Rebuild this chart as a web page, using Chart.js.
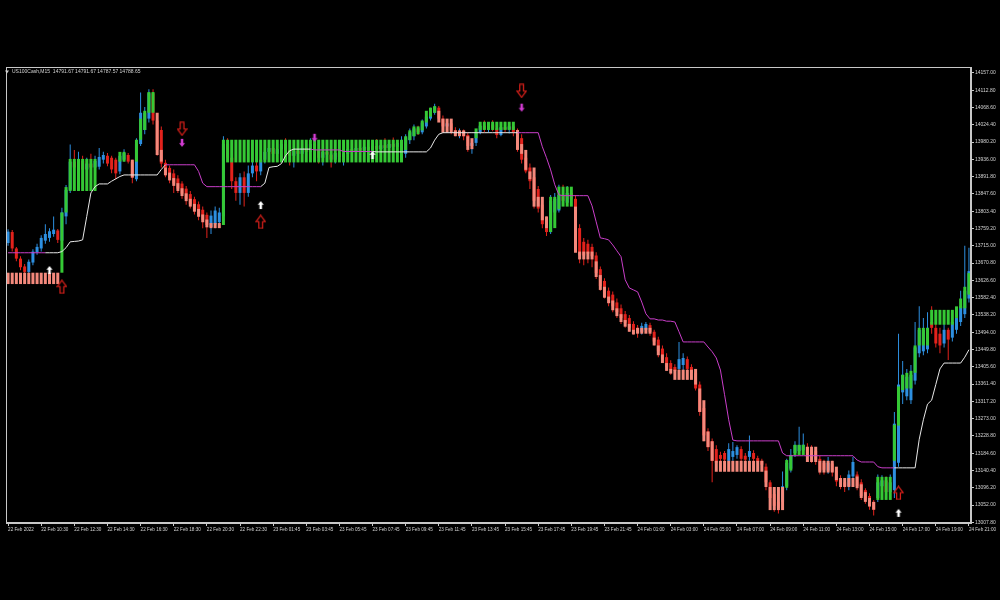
<!DOCTYPE html>
<html lang="en">
<head>
<meta charset="utf-8">
<title>US100Cash,M15</title>
<script src="https://cdn.jsdelivr.net/npm/chart.js@4.4.1/dist/chart.umd.min.js"></script>
<style>
  html, body { margin: 0; padding: 0; background: #000; }
  #chart { display: block; background: #000; }
</style>
</head>
<body>
<canvas id="chart" width="1000" height="600"></canvas>
<script>
const _ = null;
const symbolInfo = 'US100Cash,M15  14791.67 14791.67 14787.57 14788.65';

// one label every 8 bars (2 hours of M15)
const timeLabels = ['22 Feb 2022', '22 Feb 10:30', '22 Feb 12:30', '22 Feb 14:30', '22 Feb 16:30', '22 Feb 18:30',
  '22 Feb 20:30', '22 Feb 22:30', '23 Feb 01:45', '23 Feb 03:45', '23 Feb 05:45', '23 Feb 07:45', '23 Feb 09:45',
  '23 Feb 11:45', '23 Feb 13:45', '23 Feb 15:45', '23 Feb 17:45', '23 Feb 19:45', '23 Feb 21:45', '24 Feb 01:00',
  '24 Feb 03:00', '24 Feb 05:00', '24 Feb 07:00', '24 Feb 09:00', '24 Feb 11:00', '24 Feb 13:00', '24 Feb 15:00',
  '24 Feb 17:00', '24 Feb 19:00', '24 Feb 21:00'];

const priceTicks = [14157.00, 14112.80, 14068.60, 14024.40, 13980.20, 13936.00, 13891.80, 13847.60, 13803.40,
  13759.20, 13715.00, 13670.80, 13626.60, 13582.40, 13538.20, 13494.00, 13449.80, 13405.60, 13361.40, 13317.20,
  13273.00, 13228.80, 13184.60, 13140.40, 13096.20, 13052.00, 13007.80];

const openP = [
  13722,13750,13708,13682,13662,13648,13672,13698,13708,13728,13735,13745,13754,13728,
  13790,13858,13930,13915,13932,13910,13925,13915,
  13917,13935,13945,13940,13935,13905,13935,13947,13930,13885,13975,14011,14040,14105,14035,14011,
  13927,13914,13900,13887,13874,13861,13847,13834,13821,13807,13794,
  13763,13770,13775,13790,
  13975,13940,13880,13850,13890,13850,13900,13920,13905,
  13935,13955,13965,13950,13962,13975,13960,13945,13958,13950,13965,13955,13975,13960,13940,13955,13948,
  13935,13952,13942,13950,13962,13955,13965,13958,13968,13960,13970,13962,13972,13965,13975,13968,13978,
  13950,13985,13995,14015,14005,14020,14040,14055,14068,14040,14020,14028,14010,14002,14008,13998,13970,
  13978,14005,14022,14012,14025,14015,13998,14018,14012,14020,
  14005,13990,13940,13915,13890,13860,13820,13780,13750,13800,13805,13845,13825,13850,
  13835,13760,13725,13720,13712,13690,13655,13625,13600,13590,13570,13555,13540,13530,13515,13505,13495,
  13500,13512,13495,13475,13452,13430,13415,13405,13400,13410,13425,13405,13390,13360,13300,13240,13215,
  13195,13180,13185,13165,13175,13180,13195,13178,13175,13185,13172,13165,13150,13110,13080,13060,13060,
  13100,13145,13185,13190,13192,13200,13195,13190,13170,13160,13140,13158,13140,13120,13110,13100,13125,
  13130,13110,13090,13075,13060,13070,13100,13115,13085,
  13090,13160,13340,13330,13320,13370,13440,13445,13450,13520,13505,13490,13465,13500,13480,13500,13520,
  13540,13580];

const highP = [
  13757,13755,13712,13688,13668,13680,13706,13720,13742,13770,13760,13790,13758,13812,
  13870,13974,13960,13955,13945,13940,13950,13945,
  13965,13955,13952,13945,13940,13952,13962,13952,13935,13990,14107,14070,14115,14115,14045,14020,
  13935,13920,13910,13895,13880,13868,13855,13840,13828,13815,13800,
  13805,13815,13812,13995,
  13990,13950,13890,13900,13905,13920,13935,13930,13945,
  13965,13975,13980,13970,13985,13990,13975,13965,13975,13970,13980,13990,13995,13972,13962,13975,13965,
  13960,13968,13958,13970,13978,13972,13982,13975,13985,13975,13988,13980,13990,13982,13992,13985,13995,
  14000,14015,14025,14022,14038,14055,14068,14078,14072,14048,14035,14034,14018,14015,14012,14005,13985,
  14010,14030,14035,14030,14036,14028,14025,14032,14028,14030,
  14015,14000,13948,13925,13898,13868,13830,13790,13845,13850,13871,13871,13868,13860,
  13845,13770,13735,13730,13720,13698,13662,13632,13608,13598,13580,13565,13548,13538,13522,13512,13518,
  13520,13518,13500,13482,13460,13440,13422,13412,13469,13440,13432,13412,13398,13368,13308,13248,13222,
  13205,13188,13190,13210,13213,13205,13202,13185,13230,13192,13178,13170,13158,13115,13088,13068,13138,
  13170,13195,13215,13252,13235,13210,13205,13200,13178,13168,13175,13165,13148,13128,13118,13140,13175,
  13138,13118,13095,13082,13065,13130,13128,13125,13130,
  13290,13490,13420,13400,13410,13520,13560,13530,13545,13560,13530,13505,13515,13505,13530,13555,13600,
  13715,13710];

const lowP = [
  13715,13700,13675,13652,13640,13642,13665,13692,13700,13720,13725,13738,13722,13715,
  13770,13850,13905,13900,13895,13895,13900,13905,
  13910,13925,13918,13900,13885,13898,13930,13925,13875,13880,13970,14000,14030,14025,13945,13915,
  13890,13875,13850,13850,13835,13820,13810,13795,13780,13760,13735,
  13745,13760,13765,13780,
  13930,13860,13830,13820,13815,13840,13890,13880,13895,
  13925,13940,13945,13930,13950,13955,13920,13915,13940,13935,13945,13945,13955,13925,13920,13940,13915,
  13925,13930,13920,13935,13945,13938,13950,13940,13950,13945,13955,13948,13958,13950,13960,13952,13965,
  13940,13975,13985,13998,14000,14015,14035,14050,14035,14015,14005,14000,13995,13990,13985,13955,13950,
  13970,14000,14005,14004,14008,13990,13995,14005,14002,13995,
  13955,13925,13900,13860,13810,13800,13760,13740,13745,13785,13800,13825,13820,13830,
  13745,13670,13665,13670,13660,13630,13600,13580,13560,13545,13530,13515,13505,13495,13488,13480,13488,
  13492,13485,13460,13430,13415,13395,13385,13380,13392,13395,13380,13375,13345,13280,13215,13190,13110,
  13150,13160,13158,13155,13165,13170,13160,13160,13165,13160,13155,13145,13090,13050,13035,13030,13040,
  13090,13135,13175,13180,13182,13165,13160,13155,13130,13130,13132,13125,13100,13092,13085,13090,13115,
  13090,13065,13055,13040,13025,13060,13075,13070,13068,
  13070,13150,13310,13320,13310,13360,13430,13435,13440,13490,13455,13440,13455,13423,13470,13490,13510,
  13530,13570];

const closeP = [
  13751,13708,13682,13660,13648,13674,13700,13712,13735,13745,13752,13756,13730,13800,
  13858,13930,13915,13932,13910,13925,13915,13932,
  13942,13947,13925,13910,13900,13945,13952,13930,13890,13975,14055,14055,14105,14035,13960,13925,
  13901,13888,13874,13861,13848,13835,13821,13808,13795,13781,13768,
  13792,13805,13800,13975,
  13940,13880,13850,13890,13850,13900,13920,13905,13935,
  13955,13965,13950,13962,13975,13960,13945,13958,13950,13965,13955,13975,13960,13940,13955,13948,13935,
  13952,13942,13950,13962,13955,13965,13958,13968,13960,13970,13962,13972,13965,13975,13968,13978,13985,
  13992,14005,14015,14005,14030,14045,14060,14070,14040,14020,14028,14010,14000,14008,13995,13970,13978,
  14005,14022,14012,14025,14015,13998,14018,14012,14020,14005,
  13965,13935,13905,13880,13830,13810,13770,13750,13830,13835,13845,13830,13850,13835,
  13760,13690,13690,13695,13688,13645,13612,13592,13578,13560,13545,13530,13518,13505,13498,13492,13510,
  13515,13495,13470,13445,13425,13405,13398,13395,13425,13428,13400,13390,13350,13290,13230,13200,13165,
  13160,13170,13168,13195,13190,13200,13170,13168,13190,13170,13163,13155,13110,13070,13050,13045,13100,
  13160,13180,13205,13205,13206,13175,13172,13168,13140,13142,13160,13138,13112,13105,13100,13130,13162,
  13100,13075,13065,13050,13040,13110,13115,13085,13110,
  13260,13360,13385,13380,13385,13455,13500,13500,13505,13505,13465,13460,13500,13475,13520,13545,13560,
  13600,13650];

// range boxes (green when rising from -> to, salmon when falling)
const boxFrom = [
  13646,13646,13646,13646,13646,13646,13646,13646,13646,13646,13646,13646,13646,13646,
  13800,13855,13855,13855,13855,13855,13855,13855,
  _,_,_,_,_,13930,13930,_,13935,13930,13986,14011,14055,14055,14055,13960,
  13915,13902,13888,13875,13862,13849,13835,13822,13809,13795,13782,
  13773,13773,13773,13768,
  13928,13928,13928,13928,13928,13928,13928,13928,13928,13928,13928,13928,13928,13928,13928,13928,13928,
  13928,13928,13928,13928,13928,13928,13928,13928,13928,13928,13928,13928,13928,13928,13928,13928,13928,
  13928,13928,13928,13928,13928,13928,13928,13928,13928,
  13960,13985,13995,14000,14010,14030,14045,14055,14060,14040,14040,14040,14010,14010,14010,13995,13990,
  13990,14011,14011,14011,14011,14011,14011,14011,14011,14011,
  14011,13975,13960,13905,13915,13840,13840,13790,13750,13760,13808,13815,13815,13815,
  13815,13700,13700,13700,13700,13675,13640,13610,13585,13575,13555,13540,13525,13515,13500,13505,13505,
  13505,13505,13480,13460,13437,13415,13400,13398,13398,13398,13398,13398,13400,13350,13320,13240,13215,
  13165,13165,13165,13165,13165,13165,13165,13165,13165,13165,13165,13165,13140,13098,13098,13098,13098,
  13096,13140,13180,13180,13180,13201,13201,13201,13165,13165,13165,13165,13150,13121,13121,13121,13121,
  13125,13105,13085,13070,13060,13065,13065,13065,13065,
  13165,13255,13346,13350,13350,13390,13460,13460,13460,13513,13513,13513,13513,13513,13513,13530,13555,
  13555,13590];

const boxTo = [
  13617,13617,13617,13617,13617,13617,13617,13617,13617,13617,13617,13617,13617,13800,
  13865,13937,13937,13937,13937,13937,13937,13937,
  _,_,_,_,_,13955,13955,_,13889,13986,14040,14060,14108,14108,13947,13930,
  13895,13882,13868,13855,13842,13829,13815,13802,13789,13775,13762,
  13760,13760,13760,13986,
  13986,13986,13986,13986,13986,13986,13986,13986,13986,13986,13986,13986,13986,13986,13986,13986,13986,
  13986,13986,13986,13986,13986,13986,13986,13986,13986,13986,13986,13986,13986,13986,13986,13986,13986,
  13986,13986,13986,13986,13986,13986,13986,13986,13986,
  13995,14010,14020,14020,14035,14060,14068,14072,14030,14004,14004,14004,13995,13995,13995,13960,13962,
  14015,14032,14032,14032,14032,14032,14032,14032,14032,14032,
  13960,13950,13909,13885,13815,13815,13780,13760,13840,13840,13866,13866,13866,13866,
  13697,13680,13680,13680,13680,13635,13602,13582,13568,13550,13535,13520,13508,13495,13488,13490,13490,
  13490,13490,13460,13435,13415,13395,13388,13372,13372,13372,13372,13372,13360,13290,13215,13200,13165,
  13137,13137,13137,13137,13137,13137,13137,13137,13137,13137,13137,13137,13098,13039,13039,13039,13039,
  13167,13180,13206,13206,13206,13162,13162,13162,13135,13135,13135,13135,13116,13098,13098,13098,13098,
  13095,13070,13060,13048,13040,13124,13124,13124,13124,
  13257,13355,13385,13390,13395,13460,13505,13505,13505,13551,13551,13551,13551,13551,13551,13560,13580,
  13610,13645];

// trailing stop: white below price, magenta above price
const whiteStop = [
  _,_,_,_,_,_,_,_,_,
  13697,13697,13697,13697,13700,13710,13725,13726,13727,13730,13790,13850,13866,13873,13873,13873,
  13880,13886,13892,13896,13896,13896,13896,13896,13896,13896,13896,13896,13910,13922,
  _,_,_,_,_,_,_,_,_,_,_,_,_,_,_,_,_,_,_,_,_,_,
  13866,13875,13915,13917,13918,13925,13945,13958,13962,13962,13962,13962,13962,
  _,_,_,_,_,_,_,_,_,_,_,_,_,_,
  13956,13955,13955,13955,13955,13955,13955,13955,13955,13955,13955,13955,13955,13955,13965,13985,14000,
  14004,14004,14004,14004,14004,14004,14004,14004,14004,14004,14004,14004,14004,14004,14004,14004,14004,
  14004,14004,
  _,_,_,_,_,_,_,_,_,_,_,_,_,_,_,_,_,_,_,_,_,_,_,_,_,_,_,_,_,_,_,_,_,_,_,_,_,_,_,_,_,_,_,_,_,
  _,_,_,_,_,_,_,_,_,_,_,_,_,_,_,_,_,_,_,_,_,_,_,_,_,_,_,_,_,_,_,_,_,_,_,_,_,_,_,_,_,_,_,_,_,
  13147,13147,13147,13147,13147,13147,13220,13270,13310,13320,13360,13400,13415,13415,13415,13415,13415,
  13430,13449];

const magentaStop = [
  13697,13697,13697,13697,13697,13697,13697,13697,13697,13697,
  _,_,_,_,_,_,_,_,_,_,_,_,_,_,_,_,_,_,_,_,_,_,_,_,_,_,_,_,
  13922,13922,13922,13922,13922,13922,13922,13922,13905,13875,
  13866,13866,13866,13866,13866,13866,13866,13866,13866,13866,13866,13866,13866,13866,
  _,_,_,_,_,_,_,_,_,_,_,
  13962,13960,13960,13960,13960,13960,13960,13960,13956,13956,13956,13956,13956,13956,13956,13956,
  _,_,_,_,_,_,_,_,_,_,_,_,_,_,_,_,_,_,_,_,_,_,_,_,_,_,_,_,_,_,_,_,_,_,
  14004,14004,14004,14004,14004,14004,13968,13940,13909,13871,13845,
  13843,13843,13843,13843,13843,13843,13843,13817,13776,13735,13733,13730,13717,13702,13687,
  13628,13607,13602,13597,13571,13541,13528,13528,13525,13525,13522,13522,13520,13495,
  13469,13469,13469,13469,13469,13469,13456,13444,13428,13397,13334,13270,13218,
  13216,13216,13216,13216,13216,13216,13216,13216,13216,13216,13216,13185,
  13178,13178,13178,13178,13178,13178,13178,13178,13178,13178,13178,13178,13178,13178,13178,13178,13178,
  13167,13162,13162,13162,13162,13150,13147,13147,13147,13147,
  _,_,_,_,_,_,_,_,_,_,_,_,_,_,_,_,_,_];

// signal arrows: [bar index, price]
const redDownArrows = [[42, 14014], [124, 14111]];
const redUpArrows = [[13, 13610], [61, 13776], [215, 13083]];
const whiteUpArrows = [[10, 13653], [61, 13819], [88, 13947], [215, 13032]];
const magentaDownArrows = [[42, 13978], [74, 13991], [124, 14068]];

const GREEN = '#35c935', SALMON = '#f4897c', RED = '#e3221c', BLUE = '#2d8fe0';
const MAGENTA = '#c93ec9', WHITE = '#e8e8e8', AXIS = '#c8c8c8', TEXT = '#d2d2d2';

const barLabels = openP.map((_v, i) => String(i));
const candleColor = openP.map((o, i) => closeP[i] >= o ? BLUE : RED);
const boxColor = boxFrom.map((f, i) => f !== null && boxTo[i] > f ? GREEN : SALMON);

function arrowPoints(list) {
  const arr = openP.map(() => null);
  list.forEach(([i, v]) => { arr[i] = v; });
  return arr;
}

// block arrow glyphs for the signal markers
function makeArrow(dir, w, h, fill, stroke) {
  const c = document.createElement('canvas');
  c.width = w + 2; c.height = h + 2;
  const g = c.getContext('2d');
  g.translate(1, 1);
  if (dir === 'down') { g.translate(0, h); g.scale(1, -1); }
  const sw = w * 0.42, hh = h * 0.48;
  g.beginPath();
  g.moveTo(w / 2, 0);
  g.lineTo(w, hh);
  g.lineTo(w / 2 + sw / 2, hh);
  g.lineTo(w / 2 + sw / 2, h);
  g.lineTo(w / 2 - sw / 2, h);
  g.lineTo(w / 2 - sw / 2, hh);
  g.lineTo(0, hh);
  g.closePath();
  if (fill) { g.fillStyle = fill; g.fill(); }
  if (stroke) { g.strokeStyle = stroke; g.lineWidth = 1.2; g.stroke(); }
  return c;
}

const frame = {
  id: 'frame',
  beforeDraw(chart) {
    const ctx = chart.ctx;
    ctx.save();
    ctx.fillStyle = '#000';
    ctx.fillRect(0, 0, chart.width, chart.height);
    ctx.restore();
  },
  afterDraw(chart) {
    const { ctx, chartArea: a } = chart;
    ctx.save();
    ctx.strokeStyle = AXIS;
    ctx.lineWidth = 1;
    ctx.strokeRect(Math.round(a.left) + 0.5, Math.round(a.top) + 0.5,
      Math.round(a.right - a.left) - 1, Math.round(a.bottom - a.top) - 1);
    ctx.fillStyle = TEXT;
    ctx.beginPath();
    ctx.moveTo(5, 70.5); ctx.lineTo(9, 70.5); ctx.lineTo(7, 73.5);
    ctx.closePath(); ctx.fill();
    ctx.font = '5px "Liberation Sans", Arial, sans-serif';
    ctx.textBaseline = 'middle';
    ctx.fillText(symbolInfo, 12, 72);
    ctx.restore();
  }
};

const xFont = { family: '"Liberation Sans", Arial, sans-serif', size: 4.6 };
const yFont = { family: '"Liberation Sans", Arial, sans-serif', size: 5 };

new Chart(document.getElementById('chart'), {
  type: 'bar',
  plugins: [frame],
  data: {
    labels: barLabels,
    datasets: [
      {
        label: 'wick', order: 5, grouped: false, barThickness: 1, inflateAmount: 0,
        data: lowP.map((l, i) => [l, highP[i]]),
        backgroundColor: candleColor, borderWidth: 0
      },
      {
        label: 'body', order: 4, grouped: false, barThickness: 3, inflateAmount: 0,
        data: openP.map((o, i) => [o, closeP[i]]),
        backgroundColor: candleColor, borderWidth: 0
      },
      {
        label: 'box', order: 3, grouped: false, barThickness: 3, inflateAmount: 0,
        data: boxFrom.map((f, i) => f === null ? null : [f, boxTo[i]]),
        backgroundColor: boxColor, borderWidth: 0
      },
      {
        type: 'line', label: 'stop up', order: 2, data: whiteStop,
        borderColor: WHITE, borderWidth: 1, pointRadius: 0, tension: 0, spanGaps: false
      },
      {
        type: 'line', label: 'stop down', order: 2, data: magentaStop,
        borderColor: MAGENTA, borderWidth: 1, pointRadius: 0, tension: 0, spanGaps: false
      },
      {
        type: 'line', label: 'sell', order: 1, showLine: false, data: arrowPoints(redDownArrows),
        pointStyle: makeArrow('down', 9, 13, null, RED), pointRadius: 5
      },
      {
        type: 'line', label: 'buy', order: 1, showLine: false, data: arrowPoints(redUpArrows),
        pointStyle: makeArrow('up', 9, 13, null, RED), pointRadius: 5
      },
      {
        type: 'line', label: 'buy dot', order: 1, showLine: false, data: arrowPoints(whiteUpArrows),
        pointStyle: makeArrow('up', 6, 8, '#ffffff', null), pointRadius: 5
      },
      {
        type: 'line', label: 'sell dot', order: 1, showLine: false, data: arrowPoints(magentaDownArrows),
        pointStyle: makeArrow('down', 6, 8, '#d33cd3', null), pointRadius: 5
      }
    ]
  },
  options: {
    responsive: false,
    animation: false,
    layout: { padding: { left: 3, top: 67, right: 0, bottom: 63 } },
    plugins: { legend: { display: false }, tooltip: { enabled: false } },
    scales: {
      x: {
        offset: true,
        grid: { display: true, drawOnChartArea: false, offset: false, tickLength: 3, color: AXIS },
        border: { display: true, color: AXIS },
        ticks: {
          autoSkip: false, maxRotation: 0, minRotation: 0, align: 'start', padding: 1,
          color: TEXT, font: xFont,
          callback: (value) => timeLabels[value / 8]
        },
        afterBuildTicks: (scale) => { scale.ticks = timeLabels.map((_t, k) => ({ value: k * 8 })); },
        afterFit: (scale) => { scale.height = 14; }
      },
      y: {
        position: 'right',
        min: 13006, max: 14172,
        grid: { display: true, drawOnChartArea: false, tickLength: 3, color: AXIS },
        border: { display: true, color: AXIS },
        ticks: { color: TEXT, font: yFont, padding: 1, callback: (v) => v.toFixed(2) },
        afterBuildTicks: (scale) => { scale.ticks = priceTicks.map((v) => ({ value: v })); },
        afterFit: (scale) => { scale.width = 29; }
      }
    }
  }
});
</script>
</body>
</html>
